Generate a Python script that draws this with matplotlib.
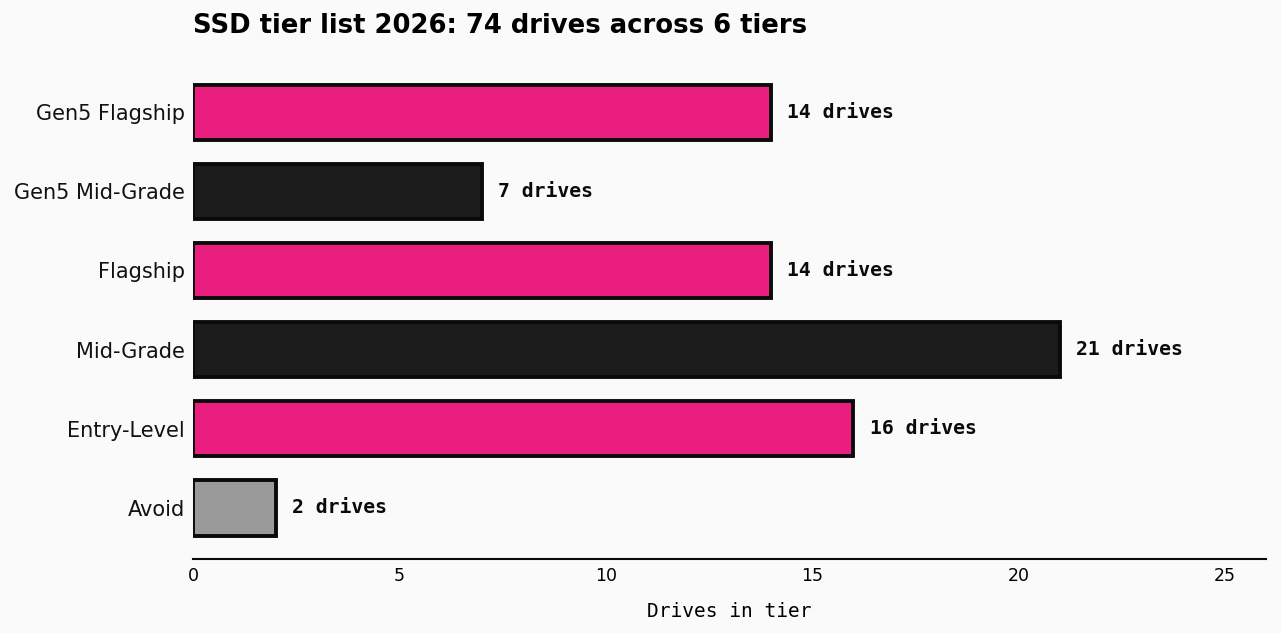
import matplotlib.pyplot as plt

# Data
tiers = ["Gen5 Flagship", "Gen5 Mid-Grade", "Flagship", "Mid-Grade", "Entry-Level", "Avoid"]
counts = [14, 7, 14, 21, 16, 2]
colors = ["#e91e7e", "#1b1b1b", "#e91e7e", "#1b1b1b", "#e91e7e", "#9a9a9a"]

bg = "#fafafa"

fig = plt.figure(figsize=(12.81, 6.33), dpi=100, facecolor=bg)
ax = fig.add_axes([0.1507, 0.117, 0.8376, 0.787], facecolor=bg)

y = list(range(len(tiers)))[::-1]
ax.barh(y, counts, height=0.7, color=colors, edgecolor="#0a0a0a", linewidth=2.8)

for yi, c in zip(y, counts):
    ax.text(c + 0.4, yi, f"{c} drives", va="center", ha="left",
            family="DejaVu Sans Mono", fontweight="bold", fontsize=14.2, color="#0a0a0a")

ax.set_yticks(y)
ax.set_yticklabels(tiers, fontsize=15, color="#111111")
ax.set_xlim(0, 26)
ax.set_ylim(-0.645, 5.65)
ax.set_xticks([0, 5, 10, 15, 20, 25])
ax.tick_params(axis="x", labelsize=12.5, length=0, pad=6)
ax.tick_params(axis="y", length=0, pad=6)

for s in ["top", "right", "left"]:
    ax.spines[s].set_visible(False)
ax.spines["bottom"].set_linewidth(1.5)
ax.spines["bottom"].set_color("#0a0a0a")

ax.set_xlabel("Drives in tier", family="DejaVu Sans Mono", fontsize=14, labelpad=12)
ax.set_title("SSD tier list 2026: 74 drives across 6 tiers", loc="left",
             fontsize=18.6, fontweight="bold", pad=20)

fig.savefig("out.png", dpi=100, facecolor=bg)
